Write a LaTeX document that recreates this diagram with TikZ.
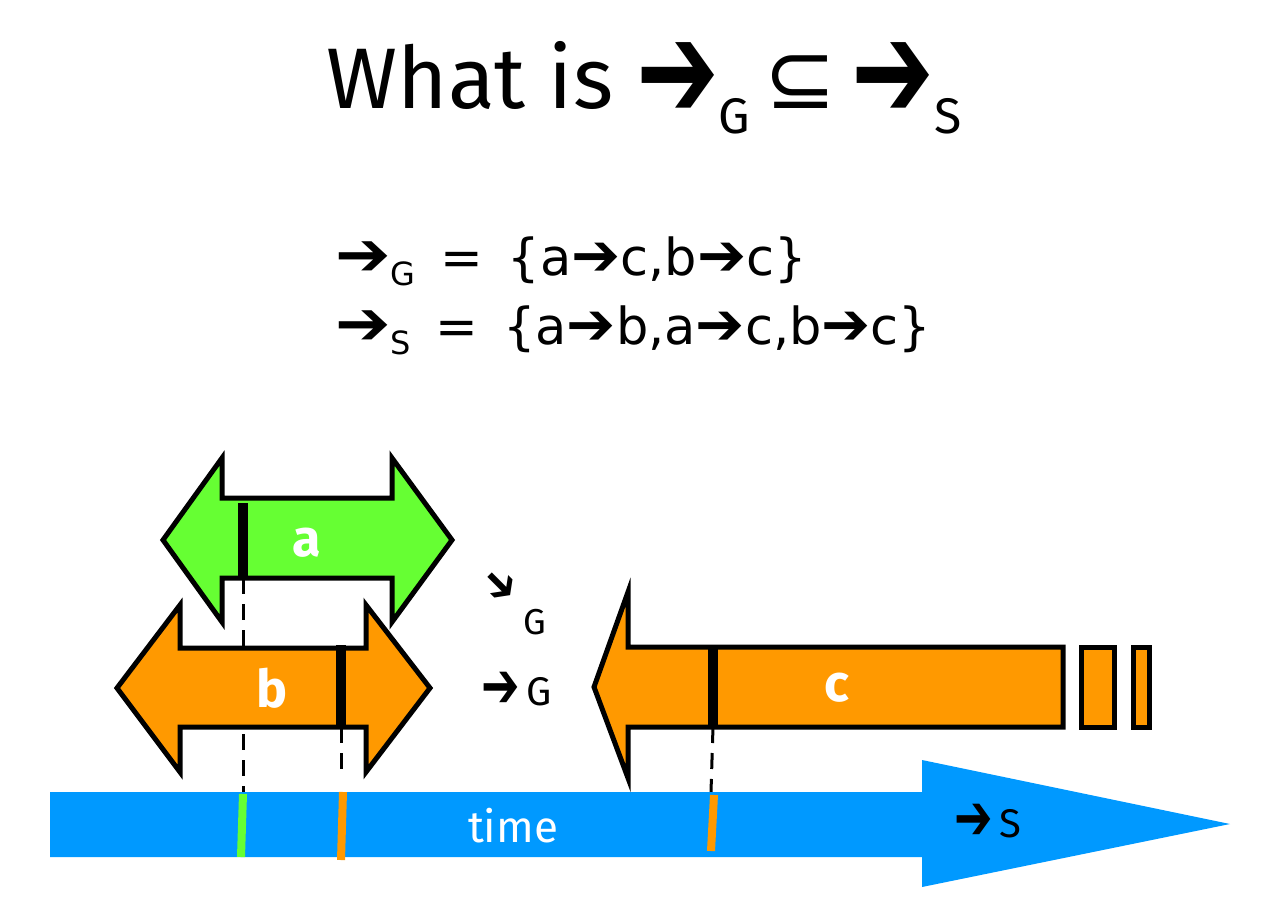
\documentclass[tikz,border=0pt]{standalone}
\usepackage{fontspec}
\setmainfont{Fira Sans}
\newfontfamily\dv{DejaVu Sans}
\newfontfamily\formfont{DejaVu Sans}
\newcommand{\harr}[1]{\raisebox{#1}{\scalebox{1.15}[1.6]{\dv ➔}}}
\newcommand{\farr}{\scalebox{1.3}[1.2]{\dv ➔}}
\newcommand{\lowsub}[1]{\smash{\raisebox{-0.2em}{\fontsize{32}{34}\selectfont #1}}}
\definecolor{agreen}{HTML}{66FF33}
\definecolor{borange}{HTML}{FF9900}
\definecolor{tblue}{HTML}{0099FF}
\begin{document}
\begin{tikzpicture}[x=1pt,y=-1pt,
  outline/.style={draw=black,line width=5pt,line join=miter},
  bar/.style={line width=10pt,black},
  tick/.style={line width=8pt},
  guide/.style={line width=3pt,dash pattern=on 16pt off 10pt},
  lbl/.style={text=white,font=\fontsize{52}{60}\selectfont\bfseries,inner sep=0pt}]
\useasboundingbox (0,0) rectangle (1264,914);
% title
\node[inner sep=0pt,anchor=base] (title) at (644,108) {\fontsize{86}{96}\selectfont What is \harr{-0.12em}\raisebox{-0.3em}{\fontsize{50}{52}\selectfont G}\,{\dv ⊆}\,\harr{-0.12em}\raisebox{-0.3em}{\fontsize{50}{52}\selectfont S}};
% formulas
\node[inner sep=0pt,anchor=base west,font=\formfont] (fG) at (335,275) {\fontsize{51}{56}\selectfont \farr\lowsub{G} \,= \,\{a\scalebox{1.15}{➔}c,b\scalebox{1.15}{➔}c\}};
\node[inner sep=0pt,anchor=base west,font=\formfont] (fS) at (335,344) {\fontsize{51}{56}\selectfont \farr\lowsub{S} \,= \,\{a\scalebox{1.15}{➔}b,a\scalebox{1.15}{➔}c,b\scalebox{1.15}{➔}c\}};
% coordinates for bars
\coordinate (aTop) at (243,503);
\coordinate (aBot) at (243,578);
\coordinate (bTop) at (341,645);
\coordinate (bBot) at (341,727);
\coordinate (cTop) at (713,645);
\coordinate (cBot) at (713,727);
\coordinate (aEnd) at (243,792);
\coordinate (bEnd) at (341,774);
\coordinate (cEnd) at (711,792);
% dashed guides
\draw[guide] (aBot) -- (aEnd);
\draw[guide] (bBot) -- (bEnd);
\draw[guide] (cBot) -- (cEnd);
% arrow a
\draw[outline,fill=agreen] (163,540) -- (222,458) -- (222,498) -- (392,498) -- (392,458) -- (452,540) -- (392,622) -- (392,578) -- (222,578) -- (222,622) -- cycle;
\draw[bar] (aTop) -- (aBot);
\node[lbl] (a) at (307,543) {a};
% arrow b
\draw[outline,fill=borange] (117,688) -- (180,605) -- (180,648) -- (366,648) -- (366,605) -- (430,688) -- (366,772) -- (366,727) -- (180,727) -- (180,772) -- cycle;
\draw[bar] (bTop) -- (bBot);
\node[lbl] (b) at (272,688) {b};
% arrow c
\draw[outline,fill=borange] (594,687) -- (628,592) -- (628,647) -- (1063,647) -- (1063,727) -- (628,727) -- (628,778) -- cycle;
\draw[outline,fill=borange] (1081,647) rectangle (1114,727);
\draw[outline,fill=borange] (1133,647) rectangle (1149,727);
\draw[bar] (cTop) -- (cBot);
\node[lbl] (c) at (837,688) {c};
% relation labels
\node[inner sep=0pt,rotate=-45,font=\fontsize{36}{40}\selectfont] (seArr) at (499,587) {\scalebox{1.1}[1.5]{\dv ➔}};
\node[inner sep=0pt,font=\fontsize{36}{40}\selectfont] (seG) at (535,622) {G};
\node[inner sep=0pt,font=\fontsize{40}{44}\selectfont] (rG) at (517,690) {\harr{-0.05em}\,G};
% time arrow
\fill[tblue] (50,792) -- (922,792) -- (922,760) -- (1230,824) -- (922,887) -- (922,857) -- (50,857) -- cycle;
\draw[tick,agreen] (243,794) -- (241,857);
\draw[tick,borange] (343,792) -- (341,860);
\draw[tick,borange] (714,795) -- (711,851);
\node[text=white,inner sep=0pt,font=\fontsize{44}{50}\selectfont] (time) at (513,826) {time};
\node[inner sep=0pt,font=\fontsize{40}{44}\selectfont] (rS) at (988,822) {\harr{-0.05em}\,S};
\end{tikzpicture}
\end{document}
